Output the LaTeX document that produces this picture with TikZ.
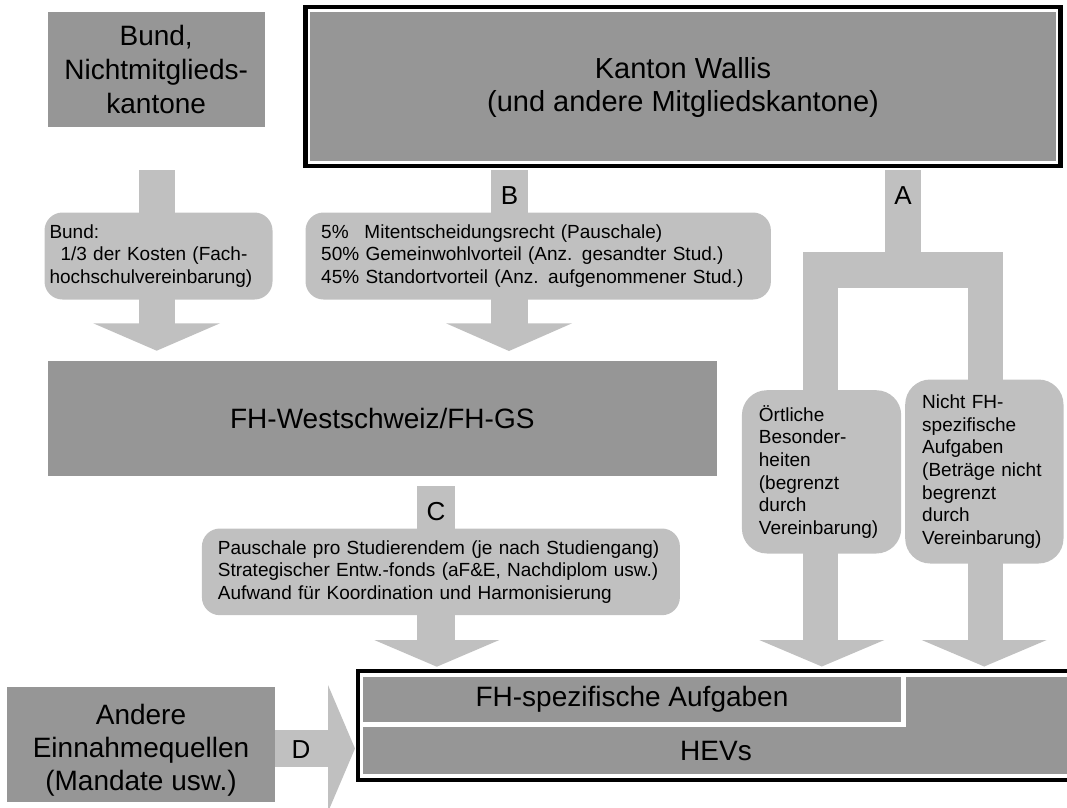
\documentclass[tikz,border=0pt]{standalone}
\usepackage{fontspec}
\setmainfont{Liberation Sans}
\definecolor{dgray}{RGB}{150,150,150}
\definecolor{lgray}{RGB}{192,192,192}
\newcommand{\bigfs}{\fontsize{28}{34}\selectfont}
\newcommand{\afs}{\fontsize{28}{33}\selectfont}
\newcommand{\kfs}{\fontsize{29}{32.5}\selectfont}
\newcommand{\smfs}{\fontsize{19}{22.7}\selectfont}
\newcommand{\letfs}{\fontsize{26}{30}\selectfont}
\begin{document}
\begin{tikzpicture}[x=1pt,y=-1pt,
  darkbox/.style={fill=dgray, inner sep=0pt, align=center, font=\bigfs},
  txt/.style={inner sep=0pt, align=center, font=\bigfs},
  flow/.style={fill=lgray},
  callout/.style={fill=lgray, anchor=north west, inner ysep=0pt, align=left, font=\smfs},
  letter/.style={font=\letfs, inner sep=0pt}]
\clip (0,0) rectangle (1067,807);

% ---------- arrow stems (behind callouts) ----------
\fill[flow] (139.3,170) rectangle (175,324);          % Bund
\fill[flow] (491,170) rectangle (528,324);            % B
\fill[flow] (885,170) rectangle (921,252);            % A stem
\fill[flow] (803,252) rectangle (1003,288);           % A bar
\fill[flow] (803,252) rectangle (838,641);            % A left
\fill[flow] (968,252) rectangle (1003,641);           % A right
\fill[flow] (417.3,486) rectangle (455,641);          % C

% ---------- arrow heads ----------
\coordinate (tipBund) at (156.7,350.7);
\coordinate (tipB) at (509,351);
\coordinate (tipC) at (436.8,666.7);
\coordinate (tipL) at (821.8,666.5);
\coordinate (tipR) at (984.2,666.5);
\coordinate (tipD) at (355,748.5);
\fill[flow] (93.3,323.3) -- (220,323.3) -- (tipBund) -- cycle;
\fill[flow] (446,323.3) -- (572,323.3) -- (tipB) -- cycle;
\fill[flow] (374.3,640) -- (499.3,640) -- (tipC) -- cycle;
\fill[flow] (759.3,640) -- (884.3,640) -- (tipL) -- cycle;
\fill[flow] (921.7,640) -- (1046.7,640) -- (tipR) -- cycle;

% ---------- dark boxes ----------
\node[darkbox, minimum width=216.6pt, minimum height=114.7pt] (bund) at (156.2,69.3) {Bund,\\Nichtmitglieds-\\kantone};

\fill[black] (303,4.5) rectangle (1063,168.3);
\fill[white] (308,9.3) rectangle (1058,163.5);
\fill[dgray] (310.3,11.6) rectangle (1055.7,161.2);
\node[txt, font=\kfs] (kanton) at (683,87.5) {Kanton Wallis\\(und andere Mitgliedskantone)};

\node[darkbox, minimum width=669.3pt, minimum height=114.7pt] (fhw) at (382.3,418.3) {FH-Westschweiz/FH-GS};

\fill[dgray] (7,687) rectangle (275,802);
\node[txt, font=\afs] (andere) at (141,750.5) {Andere\\Einnahmequellen\\(Mandate usw.)};

% D arrow
\fill[flow] (275,730) rectangle (328,767);
\fill[flow] (328,685) -- (tipD) -- (328,812) -- cycle;

% ---------- bottom box ----------
\fill[black] (356,669) rectangle (1090,782);
\fill[white] (360,673) rectangle (1086,777.5);
\fill[dgray] (363.3,676.5) rectangle (1083,774.3);
\draw[white, line width=5pt] (903.5,674) -- (903.5,724.5) -- (361,724.5);
\node[txt] (fhspez) at (632,699.5) {FH-spezifische Aufgaben};
\node[txt] (hevs) at (716,750.5) {HEVs};

% ---------- callouts ----------
\node[callout, rounded corners=18pt, inner xsep=5pt, text width=218pt, minimum height=87pt] (cbund) at (44.3,212.3)
  {Bund:\\\hspace*{11pt}1/3 der Kosten (Fach-\\hochschulvereinbarung)};
\node[callout, rounded corners=18pt, inner xsep=15.7pt, text width=434pt, minimum height=87pt] (cb) at (305.3,212.3)
  {\makebox[2.279em][l]{5\%}Mitentscheidungsrecht (Pauschale)\\50\% Gemeinwohlvorteil (Anz. gesandter Stud.)\\45\% Standortvorteil (Anz. aufgenommener Stud.)};
\node[callout, rounded corners=18pt, inner xsep=16pt, text width=446pt, minimum height=86.7pt] (cc) at (201.7,528.3)
  {Pauschale pro Studierendem (je nach Studiengang)\\Strategischer Entw.-fonds (aF\&E, Nachdiplom usw.)\\Aufwand f\"ur Koordination und Harmonisierung};
\node[callout, rounded corners=25pt, inner xsep=17pt, text width=125.3pt, minimum height=163.3pt] (corte) at (741.7,390)
  {\"Ortliche\\Besonder-\\heiten\\(begrenzt\\durch\\Vereinbarung)};
\node[callout, rounded corners=25pt, inner xsep=17pt, text width=124.3pt, minimum height=184pt] (cnicht) at (905,379.3)
  {Nicht FH-\\spezifische\\Aufgaben\\(Betr\"age nicht\\begrenzt\\durch\\Vereinbarung)};

% ---------- letters ----------
\node[letter] (lA) at (903,195.5) {A};
\node[letter] (lB) at (509.5,195.5) {B};
\node[letter] (lC) at (436,511.7) {C};
\node[letter] (lD) at (301,749.5) {D};
\end{tikzpicture}
\end{document}
